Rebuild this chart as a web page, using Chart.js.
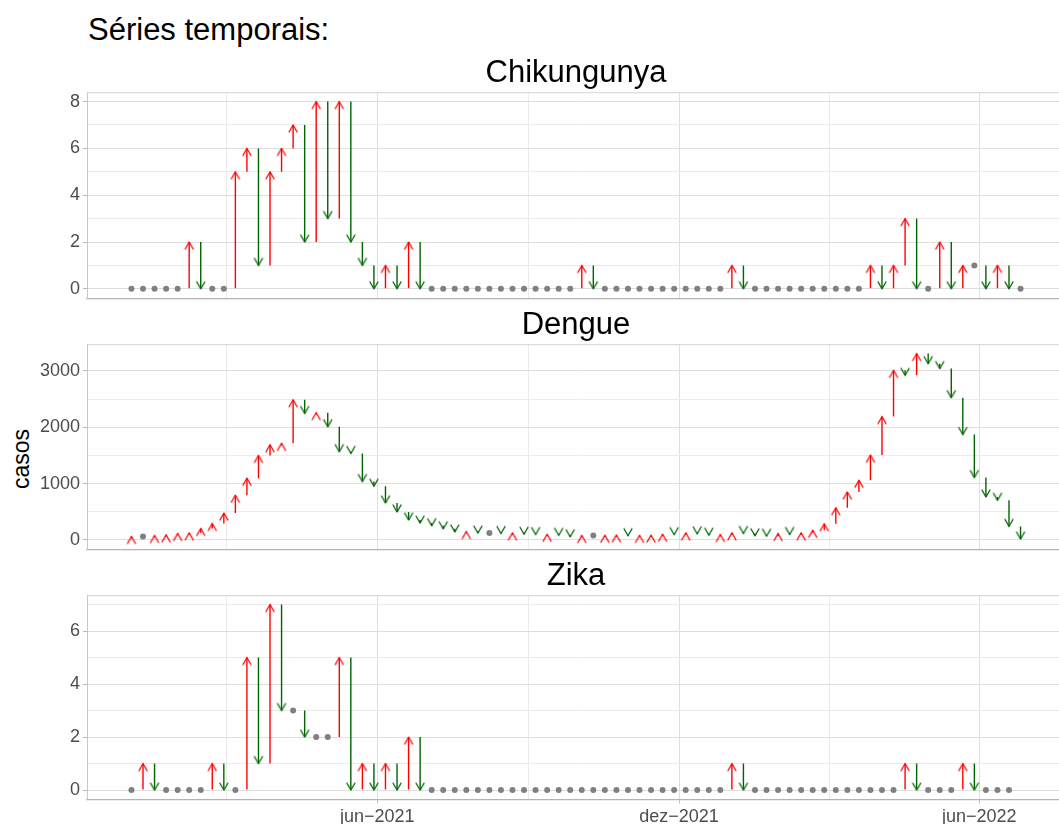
<!DOCTYPE html>
<html lang="pt-BR">
<head>
<meta charset="utf-8">
<title>Séries temporais</title>
<script src="https://cdn.jsdelivr.net/npm/chart.js@4.4.1/dist/chart.umd.min.js"></script>
<style>
  html, body { margin: 0; padding: 0; background: #fff; overflow: hidden; }
  body { width: 1059px; height: 824px; position: relative; font-family: "Liberation Sans", Arial, sans-serif; }
  .painel { position: absolute; left: 0; width: 1071px; }
  #titulo { position: absolute; left: 88px; top: 14px; font-size: 31px; line-height: 31px; color: #000; white-space: nowrap; }
  #casos { position: absolute; left: 21px; top: 459px; font-size: 23px; line-height: 23px; color: #000;
           transform: translate(-50%, -50%) rotate(-90deg); white-space: nowrap; }
</style>
</head>
<body>
<div id="titulo">Séries temporais:</div>
<div id="casos">casos</div>
<div class="painel" style="top:51px"><canvas id="chik" width="1071" height="261"></canvas></div>
<div class="painel" style="top:303px"><canvas id="dengue" width="1071" height="260"></canvas></div>
<div class="painel" style="top:554px"><canvas id="zika" width="1071" height="277"></canvas></div>
<script>
// semanas epidemiológicas a partir de 03/01/2021
const inicio = Date.UTC(2021, 0, 3);
const DIA = 86400000;
function dias(iso) {
  const [a, m, d] = iso.split('-').map(Number);
  return (Date.UTC(a, m - 1, d) - inicio) / DIA;
}

const datasX = ['2021-06-01', '2021-12-01', '2022-06-01'];
const rotulosX = ['jun−2021', 'dez−2021', 'jun−2022'];

// casos semanais
const chikungunya = [0, 0, 0, 0, 0, 2, 0, 0, 0, 5,
  6, 1, 5, 6, 7, 2, 8, 3, 8, 2,
  1, 0, 1, 0, 2, 0, 0, 0, 0, 0,
  0, 0, 0, 0, 0, 0, 0, 0, 0, 1,
  0, 0, 0, 0, 0, 0, 0, 0, 0, 0,
  0, 0, 1, 0, 0, 0, 0, 0, 0, 0,
  0, 0, 0, 0, 1, 0, 1, 3, 0, 0,
  2, 0, 1, 1, 0, 1, 0, 0];
const dengue = [60, 60, 78, 90, 113, 125, 203, 292, 477, 793,
  1096, 1500, 1690, 1715, 2490, 2245, 2260, 2010, 1566, 1536,
  1036, 953, 655, 495, 352, 298, 250, 196, 140, 148,
  120, 120, 112, 125, 100, 95, 100, 80, 55, 78,
  78, 82, 88, 75, 80, 85, 100, 92, 125, 107,
  84, 96, 125, 114, 71, 66, 114, 96, 125, 170,
  286, 571, 852, 1060, 1506, 2190, 3012, 2923, 3310, 3130,
  3043, 2525, 1870, 1107, 762, 703, 239, 15];
const zika = [0, 1, 0, 0, 0, 0, 0, 1, 0, 0,
  5, 1, 7, 3, 3, 2, 2, 2, 5, 0,
  1, 0, 1, 0, 2, 0, 0, 0, 0, 0,
  0, 0, 0, 0, 0, 0, 0, 0, 0, 0,
  0, 0, 0, 0, 0, 0, 0, 0, 0, 0,
  0, 0, 1, 0, 0, 0, 0, 0, 0, 0,
  0, 0, 0, 0, 0, 0, 0, 1, 0, 0,
  0, 0, 1, 0, 0, 0, 0];

// valor da semana anterior ao início da série
const anteriorChik = 0;
const anteriorDengue = 30;
const anteriorZika = 0;

const ticksChik = [0, 2, 4, 6, 8];
const ticksDengue = [0, 1000, 2000, 3000];
const ticksZika = [0, 2, 4, 6];

const VERMELHO = '#FF0000';
const VERDE = '#006400';
const CINZA = '#808080';
const FONTE = '"Liberation Sans", Arial, sans-serif';

const semanas = dengue.map((_, i) => 7 * i);
const xMaior = datasX.map(dias);
const passoX = xMaior[1] - xMaior[0];
const xMenor = [xMaior[0] - passoX / 2];
for (let i = 0; i < xMaior.length - 1; i++) xMenor.push((xMaior[i] + xMaior[i + 1]) / 2);

function menores(ticks, max) {
  const passo = ticks[1] - ticks[0];
  const out = [];
  for (let v = ticks[0] + passo / 2; v <= max; v += passo) out.push(v);
  return out;
}

function ponta(cor, sobe) {
  const c = document.createElement('canvas');
  c.width = 12; c.height = 20;
  const g = c.getContext('2d');
  g.strokeStyle = cor; g.lineWidth = 1.3; g.lineJoin = 'round'; g.lineCap = 'round';
  const dy = sobe ? 7 : -7;
  g.beginPath();
  g.moveTo(2, 10 + dy); g.lineTo(6, 10); g.lineTo(10, 10 + dy);
  g.stroke();
  return c;
}
const pontaSobe = ponta(VERMELHO, true);
const pontaDesce = ponta(VERDE, false);

function montaSerie(valores, anterior) {
  const hastes = [], pontas = [], iguais = [];
  valores.forEach((v, i) => {
    const p = i === 0 ? anterior : valores[i - 1];
    const x = semanas[i];
    if (v === p) iguais.push({ x, y: v });
    else {
      hastes.push({ x, y: [p, v], sobe: v > p });
      pontas.push({ x, y: v, sobe: v > p });
    }
  });
  return { hastes, pontas, iguais };
}

const bordaSuperior = {
  id: 'bordaSuperior',
  afterDraw(chart) {
    const { ctx, chartArea } = chart;
    ctx.save();
    ctx.strokeStyle = '#D4D4D4';
    ctx.lineWidth = 1;
    ctx.beginPath();
    ctx.moveTo(chartArea.left, chartArea.top + 0.5);
    ctx.lineTo(chartArea.right, chartArea.top + 0.5);
    ctx.stroke();
    ctx.restore();
  }
};

function criaPainel(id, titulo, valores, anterior, ticksY, limY, mostraX) {
  const s = montaSerie(valores, anterior);
  const menY = menores(ticksY, limY[1]);
  new Chart(document.getElementById(id), {
    type: 'bar',
    data: {
      datasets: [
        {
          type: 'scatter', data: s.pontas, order: 0,
          pointStyle: (c) => c.raw && c.raw.sobe ? pontaSobe : pontaDesce,
          pointRadius: 5
        },
        {
          type: 'scatter', data: s.iguais, order: 0,
          pointStyle: 'circle', pointRadius: 3,
          pointBackgroundColor: CINZA, pointBorderWidth: 0
        },
        {
          type: 'bar', data: s.hastes, order: 1,
          barThickness: 1.4, inflateAmount: 0, borderWidth: 0,
          backgroundColor: (c) => c.raw && c.raw.sobe ? VERMELHO : VERDE
        }
      ]
    },
    options: {
      responsive: false,
      animation: false,
      events: [],
      layout: { padding: 0 },
      plugins: {
        legend: { display: false },
        tooltip: { enabled: false },
        title: {
          display: true, text: titulo, fullSize: false, color: '#000',
          font: { family: FONTE, size: 31, weight: 'normal' },
          padding: { top: 4, bottom: 0 }
        }
      },
      scales: {
        x: {
          type: 'linear', min: -26.95, max: 565.95, offset: false,
          afterBuildTicks: (sc) => { sc.ticks = [...xMenor, ...xMaior].sort((a, b) => a - b).map(v => ({ value: v })); },
          ticks: {
            display: mostraX, autoSkip: false, maxRotation: 0, padding: 3,
            color: '#4D4D4D', font: { family: FONTE, size: 18 },
            callback: (v) => { const k = xMaior.indexOf(v); return k >= 0 ? rotulosX[k] : ''; }
          },
          grid: {
            offset: false, drawTicks: mostraX, tickLength: 4,
            color: (c) => xMaior.includes(c.tick.value) ? '#DEDEDE' : '#EBEBEB',
            tickColor: (c) => xMaior.includes(c.tick.value) ? '#B8B8B8' : 'rgba(0,0,0,0)'
          },
          border: { color: '#B3B3B3', width: 1.3 }
        },
        y: {
          type: 'linear', min: limY[0], max: limY[1],
          afterBuildTicks: (sc) => { sc.ticks = [...ticksY, ...menY].sort((a, b) => a - b).map(v => ({ value: v })); },
          afterFit: (sc) => { sc.width = 87; },
          ticks: {
            padding: 3, color: '#4D4D4D', font: { family: FONTE, size: 18 },
            callback: (v) => ticksY.includes(v) ? String(v) : ''
          },
          grid: {
            tickLength: 4,
            color: (c) => ticksY.includes(c.tick.value) ? '#DEDEDE' : '#EBEBEB',
            tickColor: (c) => ticksY.includes(c.tick.value) ? '#B8B8B8' : 'rgba(0,0,0,0)'
          },
          border: { color: '#C8C8C8', width: 1 }
        }
      }
    },
    plugins: [bordaSuperior]
  });
}

criaPainel('chik', 'Chikungunya', chikungunya, anteriorChik, ticksChik, [-0.4, 8.4], false);
criaPainel('dengue', 'Dengue', dengue, anteriorDengue, ticksDengue, [-166, 3476], false);
criaPainel('zika', 'Zika', zika, anteriorZika, ticksZika, [-0.35, 7.35], true);
</script>
</body>
</html>
